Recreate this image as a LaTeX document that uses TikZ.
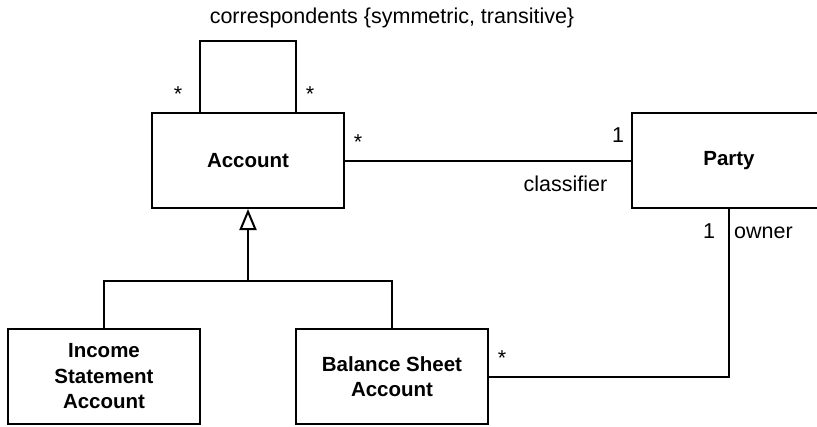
\documentclass[tikz,border=0pt]{standalone}
\usepackage{fontspec}
\setmainfont{Liberation Sans}
\usetikzlibrary{positioning, arrows.meta}
\tikzstyle{classbox} = [rectangle, minimum width=192pt, minimum height=95pt, align=center, draw=black, line width=2pt, font=\fontsize{20.5pt}{25.5pt}\selectfont\bfseries]
\tikzstyle{edge} = [line width=2pt]
\tikzstyle{gen} = [line width=2pt, -{Triangle[open, length=21pt, width=17pt]}]
\tikzstyle{mult} = [font=\fontsize{21.5pt}{25pt}\selectfont, inner sep=0pt, anchor=base]

\begin{document}
\begin{tikzpicture}[x=1pt, y=-1pt]
\useasboundingbox (0,0) rectangle (817,426);
\clip (0,0) rectangle (817,426);

\node (account) [classbox] at (248,160.5) {Account};
\node (party) [classbox, minimum width=194pt, right=286pt of account] {Party};
\node (income) [classbox, below=119pt of account, xshift=-144pt] {Income\\Statement\\Account};
\node (balance) [classbox, right=94pt of income] {Balance Sheet\\Account};
\coordinate (fork) at (248,281);

\node (selfl) [mult] at (178,101) {*};
\node (selfr) [mult] at (310,101) {*};
\node (corr) [mult] at (392,23) {correspondents \{symmetric, transitive\}};
\node (accmult) [mult] at (358,149) {*};
\node (partymult) [mult] at (618,142) {1};
\node (classifier) [mult] at (565.5,191) {classifier};
\node (ownermult) [mult] at (709,238) {1};
\node (owner) [mult] at (763.5,238) {owner};
\node (balmult) [mult] at (502,365) {*};

\draw [edge] ([xshift=-48pt]account.north) -- ++(0,-71) -| ([xshift=48pt]account.north);
\draw [edge] (account) -- (party);
\draw [edge] (party.south) |- (balance.east);
\draw [edge] (income.north) |- (fork) -| (balance.north);
\draw [gen] (fork) -- (account.south);

\end{tikzpicture}
\end{document}
